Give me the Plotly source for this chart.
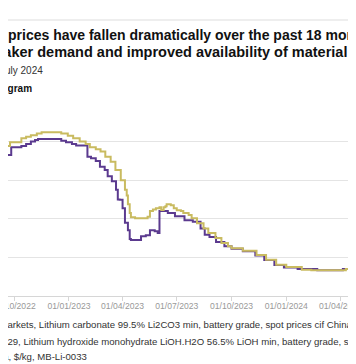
import plotly.graph_objects as go

# ---------------- data ----------------
carbonate_dates = [
    "2022-09-15", "2022-09-26", "2022-10-13", "2022-10-21", "2022-10-29", "2022-11-05",
    "2022-11-10", "2022-12-19", "2022-12-27", "2023-01-06", "2023-01-13", "2023-02-01",
    "2023-02-07", "2023-02-15", "2023-02-22", "2023-03-02", "2023-03-07", "2023-03-14",
    "2023-03-21", "2023-03-24", "2023-03-27", "2023-04-01", "2023-04-05", "2023-04-10",
    "2023-04-13", "2023-04-15", "2023-05-02", "2023-05-10", "2023-05-17", "2023-05-25",
    "2023-05-30", "2023-06-02", "2023-06-16", "2023-06-28", "2023-07-14", "2023-07-28",
    "2023-08-10", "2023-08-17", "2023-08-25", "2023-09-05", "2023-09-19", "2023-10-01",
    "2023-10-20", "2023-11-10", "2023-11-25", "2023-12-12", "2023-12-28", "2024-01-20",
    "2024-02-22", "2024-04-05", "2024-05-15",
]
carbonate_values = [
    73.0, 77.0, 77.7, 78.7, 80.0, 80.8,
    81.3, 80.4, 79.6, 78.7, 78.0, 72.2,
    71.3, 70.0, 67.0, 65.3, 62.0, 59.4,
    55.0, 50.0, 49.8, 45.5, 38.0, 34.0,
    29.5, 29.0, 31.0, 31.5, 34.0, 33.5,
    32.6, 44.0, 43.0, 41.3, 39.3, 38.5,
    35.0, 31.7, 30.5, 28.0, 25.8, 24.5,
    23.2, 21.0, 18.6, 16.0, 14.8, 14.0,
    13.3, 14.0, 14.5,
]

hydroxide_dates = [
    "2022-09-15", "2022-09-24", "2022-10-13", "2022-10-21", "2022-10-29", "2022-11-08",
    "2022-11-16", "2022-12-19", "2022-12-30", "2023-01-08", "2023-01-19", "2023-01-29",
    "2023-02-05", "2023-02-15", "2023-02-23", "2023-03-03", "2023-03-12", "2023-03-20",
    "2023-03-29", "2023-04-05", "2023-04-08", "2023-04-10", "2023-04-13", "2023-04-15",
    "2023-04-22", "2023-05-13", "2023-05-17", "2023-05-22", "2023-05-27", "2023-06-02",
    "2023-06-05", "2023-06-09", "2023-06-12", "2023-06-14", "2023-06-21", "2023-06-26",
    "2023-07-01", "2023-07-08", "2023-07-12", "2023-07-21", "2023-07-26", "2023-08-04",
    "2023-08-15", "2023-08-23", "2023-09-04", "2023-09-14", "2023-09-25", "2023-10-01",
    "2023-10-20", "2023-11-12", "2023-11-28", "2023-12-15", "2024-01-01", "2024-01-27",
    "2024-02-12", "2024-03-28", "2024-04-10", "2024-05-15",
]
hydroxide_values = [
    77.7, 79.6, 81.7, 82.5, 83.3, 84.2,
    84.8, 84.2, 83.0, 81.7, 80.0, 78.7,
    77.0, 76.0, 74.8, 72.2, 69.6, 65.3,
    60.0, 55.0, 52.0, 47.5, 43.0, 40.8,
    40.3, 41.0, 44.0, 44.8, 45.5, 46.0,
    44.5, 46.0, 46.5, 47.5, 47.0, 45.5,
    44.4, 44.0, 43.0, 42.0, 40.3, 37.7,
    35.0, 32.6, 30.0, 27.4, 25.8, 24.8,
    23.4, 21.3, 18.8, 16.2, 15.0, 13.6,
    13.3, 13.3, 14.0, 14.5,
]

x_tick_vals = ["2022-10-01", "2023-01-01", "2023-04-01", "2023-07-01",
               "2023-10-01", "2024-01-01", "2024-04-01"]
x_tick_text = ["01/10/2022", "01/01/2023", "01/04/2023", "01/07/2023",
               "01/10/2023", "01/01/2024", "01/04/2024"]
y_tick_vals = [0, 20, 40, 60, 80, 100]

title_line1 = "prices have fallen dramatically over the past 18 months"
title_line2 = "weaker demand and improved availability of material"
subtitle = "July 2024"
unit_label = "$/kilogram"
source_lines = [
    "Source: Fastmarkets, Lithium carbonate 99.5% Li2CO3 min, battery grade, spot prices cif China, Japan & Korea,",
    "$/kg, MB-Li-0029, Lithium hydroxide monohydrate LiOH.H2O 56.5% LiOH min, battery grade, spot price cif China,",
    "Japan & Korea, $/kg, MB-Li-0033",
]

# ---------------- layout helpers ----------------
W, H = 356, 364
T, B = 94, 76
PH = H - T - B


def py(p):
    return 1 - (p - T) / PH


def px(p):
    return p / W


PURPLE = "#5b3a8f"
GOLD = "#c9bb60"
FONT = "Liberation Sans, Arial, sans-serif"

fig = go.Figure()
fig.add_trace(go.Scatter(x=carbonate_dates, y=carbonate_values, mode="lines",
                         line=dict(color=PURPLE, width=2, shape="hv"),
                         name="Lithium carbonate", hoverinfo="skip"))
fig.add_trace(go.Scatter(x=hydroxide_dates, y=hydroxide_values, mode="lines",
                         line=dict(color=GOLD, width=2, shape="hv"),
                         name="Lithium hydroxide", hoverinfo="skip"))

ann = []
ann.append(dict(text=title_line1, x=px(-2), y=py(27), xanchor="left", yanchor="middle",
                font=dict(family=FONT, size=14, color="#111111", weight="bold")))
ann.append(dict(text=title_line2, x=px(341), y=py(44), xanchor="right", yanchor="middle",
                font=dict(family=FONT, size=14.5, color="#111111", weight="bold")))
ann.append(dict(text=subtitle, x=px(37), y=py(62.5), xanchor="right", yanchor="middle",
                font=dict(family=FONT, size=10, color="#333333")))
ann.append(dict(text=unit_label, x=px(26), y=py(80), xanchor="right", yanchor="middle",
                font=dict(family=FONT, size=10, color="#111111", weight="bold")))
for line, yy in zip(source_lines, [316.5, 333, 348.5]):
    ann.append(dict(text=line, x=0, y=py(yy), xanchor="left", yanchor="middle",
                    font=dict(family=FONT, size=9.6, color="#333333"), xshift=-65))
for a in ann:
    a.update(xref="paper", yref="paper", showarrow=False)
fig.update_layout(annotations=ann)

fig.add_shape(type="line", xref="paper", yref="paper", x0=0, x1=1, y0=py(12), y1=py(12),
              line=dict(color="#dddddd", width=1))

fig.update_layout(
    width=W, height=H,
    margin=dict(l=0, r=0, t=T, b=B, autoexpand=False),
    paper_bgcolor="white", plot_bgcolor="white",
    showlegend=False, hovermode=False,
    xaxis=dict(type="date", range=["2022-09-20 14:00", "2024-05-10 12:00"],
               tickvals=x_tick_vals, ticktext=x_tick_text,
               tickfont=dict(family=FONT, size=8.6, color="#999999"),
               showgrid=False, showline=True, linecolor="#d6d6d6", linewidth=1,
               ticks="outside", ticklen=4, tickcolor="#d6d6d6",
               ticklabelstandoff=-2,
               ticklabeloverflow="allow", automargin=False),
    yaxis=dict(range=[0, 100.5], tickvals=y_tick_vals, showgrid=True,
               gridcolor="#e4e4e4", gridwidth=1, zeroline=False,
               showticklabels=True, ticks="",
               tickfont=dict(family=FONT, size=9, color="rgba(0,0,0,0)"),
               automargin=False),
)

fig.write_html("out.html", config={"displayModeBar": False, "staticPlot": True})
